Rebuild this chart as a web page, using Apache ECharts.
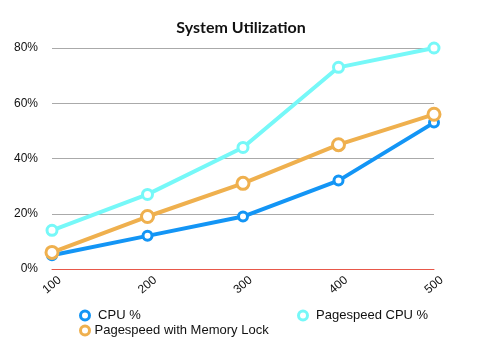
<!DOCTYPE html>
<html><head><meta charset="utf-8">
<script src="https://cdn.jsdelivr.net/npm/echarts@6/dist/echarts.min.js"></script>
<style>html,body{margin:0;padding:0;background:#fff}#c{width:482px;height:357px}</style>
</head><body><div id="c"></div>
<script>
const categories = ['100', '200', '300', '400', '500'];
const cpu = [5, 12, 19, 32, 53];
const memLock = [6, 19, 31, 45, 56];
const pagespeedCpu = [14, 27, 44, 73, 80];
const yTicks = [0, 20, 40, 60, 80];

const colors = { cpu: '#1395f5', mem: '#efb04e', ps: '#76f8f8', zero: '#e8584a' };
const chart = echarts.init(document.getElementById('c'));
function ser(name, data, color, size) {
  return {
    name, type: 'line', data,
    symbol: 'circle', symbolSize: size,
    lineStyle: { color, width: 4 },
    itemStyle: { color: '#fff', borderColor: color, borderWidth: 3 },
    emphasis: { disabled: true }
  };
}
const legendBase = {
  icon: 'circle', itemWidth: 9, itemHeight: 9, itemGap: 10,
  textStyle: { fontFamily: 'Liberation Sans', fontSize: 13, color: '#111' },
  selectedMode: false
};
const cpuSeries = ser('CPU %', cpu, colors.cpu, 9);
cpuSeries.markLine = { silent: true, symbol: 'none', label: { show: false }, z: 1,
  lineStyle: { color: colors.zero, width: 1, type: 'solid' }, data: [{ yAxis: yTicks[0] }] };
chart.setOption({
  animation: false,
  title: { text: 'System Utilization', left: 'center', top: 15,
    textStyle: { fontFamily: 'Lato', fontSize: 16, fontWeight: 'bold', color: '#111' } },
  grid: { left: 52, right: 48, top: 48, bottom: 88 },
  legend: [
    Object.assign({}, legendBase, { left: 74, top: 304, formatter: ' {name}', data: [{ name: 'CPU %', itemStyle: { color: '#fff', borderColor: colors.cpu, borderWidth: 3 } }] }),
    Object.assign({}, legendBase, { left: 74, top: 319, data: [{ name: 'Pagespeed with Memory Lock', itemStyle: { color: '#fff', borderColor: colors.mem, borderWidth: 3 } }] }),
    Object.assign({}, legendBase, { left: 292, top: 304, formatter: ' {name}', data: [{ name: 'Pagespeed CPU %', itemStyle: { color: '#fff', borderColor: colors.ps, borderWidth: 3 } }] })
  ],
  xAxis: {
    type: 'category', data: categories, boundaryGap: false, z: 5,
    axisLine: { show: true, lineStyle: { color: colors.zero, width: 1 } }, axisTick: { show: false },
    axisLabel: { rotate: 40, align: 'center', verticalAlign: 'middle', fontFamily: 'Liberation Sans', fontSize: 12, color: '#111', margin: 16 }
  },
  yAxis: {
    type: 'value', min: yTicks[0], max: yTicks[yTicks.length - 1], interval: 20,
    axisLine: { show: false }, axisTick: { show: false },
    axisLabel: { formatter: '{value}%', fontFamily: 'Liberation Sans', fontSize: 12, color: '#111', margin: 14 },
    splitLine: { lineStyle: { color: ['rgba(0,0,0,0)', '#aaaaaa', '#aaaaaa', '#aaaaaa', '#aaaaaa'], width: 1 } }
  },
  series: [
    cpuSeries,
    ser('Pagespeed with Memory Lock', memLock, colors.mem, 12),
    ser('Pagespeed CPU %', pagespeedCpu, colors.ps, 10)
  ]
});
</script></body></html>
